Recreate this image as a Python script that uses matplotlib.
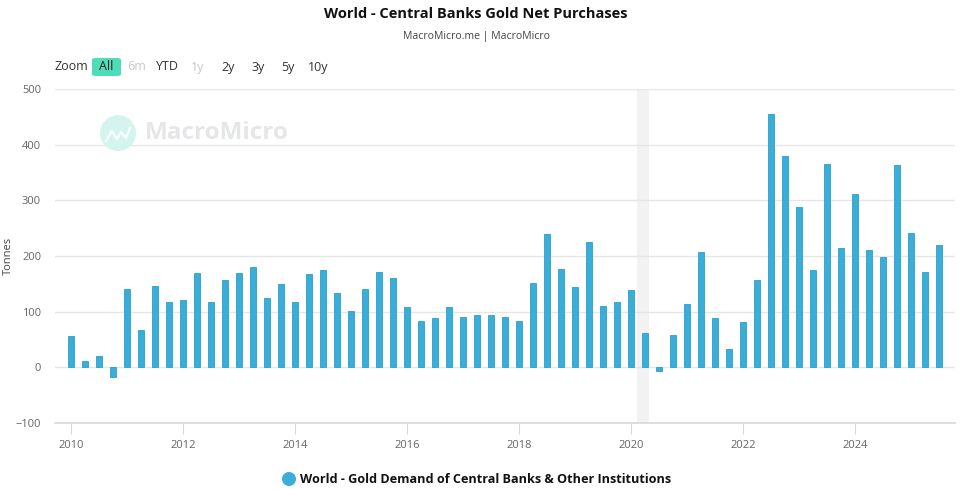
import numpy as np
import matplotlib
matplotlib.use("Agg")
import matplotlib.pyplot as plt
from matplotlib.patches import FancyBboxPatch, Ellipse
from matplotlib.lines import Line2D

plt.rcParams['font.family'] = ['Open Sans', 'DejaVu Sans']

# quarterly net purchases, tonnes (2010 Q1 .. 2025 Q3)
years = list(range(2010, 2026))
values = [
    57, 12, 21, -17,
    141, 67, 147, 118,
    121, 170, 117, 156,
    170, 180, 125, 149,
    117, 168, 174, 134,
    102, 141, 171, 161,
    108, 83, 88, 108,
    90, 94, 94, 91,
    83, 151, 239, 176,
    144, 225, 111, 117,
    139, 62, -7, 58,
    113, 208, 89, 33,
    81, 157, 455, 380,
    288, 174, 365, 215,
    312, 210, 198, 363,
    241, 171, 219,
]
quarters = [years[0] + i * 0.25 for i in range(len(values))]
recession = (2020.1, 2020.33)
xticks = [2010, 2012, 2014, 2016, 2018, 2020, 2022, 2024]
yticks = [-100, 0, 100, 200, 300, 400, 500]
zoom_buttons = ["6m", "YTD", "1y", "2y", "3y", "5y", "10y"]
zoom_enabled = [False, True, False, True, True, True, True]

bar_color = "#3aaed8"
grid_color = "#e6e6e6"
tick_color = "#666666"

W, H = 980, 490


def fx(px):
    return px / W


def fy(py):
    return 1 - py / H


def dot(cx, cy, r, color, z=1):
    # circle given in pixels, drawn in figure fraction
    e = Ellipse((fx(cx), fy(cy)), 2 * r / W, 2 * r / H,
                transform=fig.transFigure, facecolor=color,
                edgecolor="none", zorder=z)
    fig.patches.append(e)


fig = plt.figure(figsize=(9.8, 4.9), dpi=100)
ax = fig.add_axes([fx(55), fy(423), 900 / W, 334 / H])

ax.axvspan(*recession, color="#f2f2f2", zorder=0, lw=0)
ax.bar(quarters, values, width=0.105, color=bar_color, edgecolor="#2a9fcb",
       linewidth=0.6, zorder=3)

ax.set_xlim(2009.714, 2025.786)
ax.set_ylim(-100, 500)
ax.set_yticks(yticks)
ax.set_xticks(xticks)
ax.set_xticklabels([str(t) for t in xticks])
ax.yaxis.grid(True, color=grid_color, linewidth=1, zorder=1)
ax.set_axisbelow(True)
for side in ["top", "right", "left"]:
    ax.spines[side].set_visible(False)
ax.spines["bottom"].set_color("#d8d8d8")
ax.spines["bottom"].set_linewidth(1.2)
ax.tick_params(axis="y", length=0, labelsize=8, labelcolor=tick_color, pad=10)
ax.tick_params(axis="x", length=8, color="#d8d8d8", labelsize=8,
               labelcolor=tick_color, pad=4)
ax.set_ylabel("Tonnes", fontsize=8, color="#444444")
ax.yaxis.set_label_coords(-0.046, 0.5)

# title block
fig.text(fx(476), fy(14), "World - Central Banks Gold Net Purchases",
         ha="center", va="center", fontsize=10.5, fontweight="bold", color="#111111")
fig.text(fx(476), fy(36), "MacroMicro.me | MacroMicro",
         ha="center", va="center", fontsize=7.6, color="#444444")

# zoom buttons
fig.text(fx(71), fy(67), "Zoom", ha="center", va="center",
         fontsize=9, color="#333333")
btn = FancyBboxPatch((fx(92), fy(76)), 29 / W, 18 / H,
                     boxstyle="round,pad=0,rounding_size=0.004",
                     transform=fig.transFigure, facecolor="#4fdcb8",
                     edgecolor="none")
fig.patches.append(btn)
fig.text(fx(106), fy(67), "All", ha="center", va="center",
         fontsize=9, color="#222222")
btn_x = [137, 167, 198, 228, 258, 288, 318]
for label, bx, on in zip(zoom_buttons, btn_x, zoom_enabled):
    fig.text(fx(bx), fy(67), label, ha="center", va="center",
             fontsize=9, color="#333333" if on else "#c8c8c8")

# watermark
dot(118, 133, 18, "#d3f5ed", z=0)
icon_x = [106, 112, 117, 121, 126, 130]
icon_y = [141, 131, 139, 132, 138, 128]
fig.lines.append(Line2D([fx(v) for v in icon_x], [fy(v) for v in icon_y],
                        transform=fig.transFigure, color="white", lw=1.6))
fig.text(fx(145), fy(133), "MacroMicro", ha="left", va="center",
         fontsize=17.5, fontweight="bold", color="#e4e6e8", zorder=0)

# legend
dot(289, 479, 7, bar_color)
fig.text(fx(300), fy(479),
         "World - Gold Demand of Central Banks & Other Institutions",
         ha="left", va="center", fontsize=9.1, fontweight="bold", color="#111111")

fig.savefig("out.png", dpi=100, facecolor="white")
